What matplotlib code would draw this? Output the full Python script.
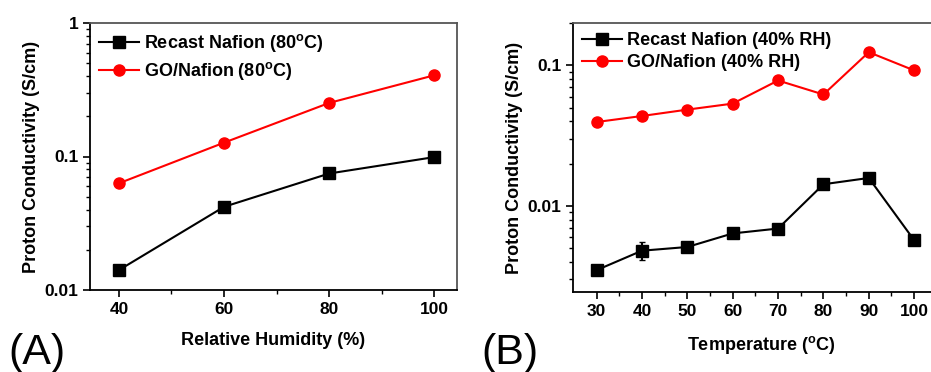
import matplotlib
matplotlib.use("Agg")
import matplotlib.pyplot as plt
from matplotlib.ticker import LogLocator, NullFormatter, FixedLocator

plt.rcParams['font.family'] = ['Liberation Sans', 'DejaVu Sans']
plt.rcParams['font.weight'] = 'bold'
plt.rcParams['mathtext.fontset'] = 'custom'
plt.rcParams['mathtext.rm'] = 'Liberation Sans:bold'
plt.rcParams['mathtext.bf'] = 'Liberation Sans:bold'

# Panel A data
rh = [40, 60, 80, 100]
recast_rh = [0.0141, 0.042, 0.0746, 0.099]
go_rh = [0.063, 0.127, 0.252, 0.406]

# Panel B data
temp = [30, 40, 50, 60, 70, 80, 90, 100]
recast_t = [0.00349, 0.0048, 0.0051, 0.00637, 0.0069, 0.01425, 0.0158, 0.0057]
recast_t_err = [0.0001, 0.0007, 0.0002, 0.0002, 0.0003, 0.0005, 0.0006, 0.0002]
go_t = [0.0395, 0.0436, 0.0484, 0.0534, 0.078, 0.062, 0.124, 0.092]
go_t_err = [0.001, 0.001, 0.001, 0.001, 0.003, 0.002, 0.006, 0.004]

fig = plt.figure(figsize=(9.31, 3.72), dpi=100)
W, H = 931, 372

def px_axes(l, t, r, b):
    return fig.add_axes([l / W, 1 - b / H, (r - l) / W, (b - t) / H])

axA = px_axes(90, 23, 457, 290)
axB = px_axes(573, 23, 950, 292)

for ax in (axA, axB):
    ax.set_yscale('log')
    ax.tick_params(axis='both', which='major', direction='out', length=5, width=1.2,
                   labelsize=12.5)
    ax.tick_params(axis='both', which='minor', direction='out', length=3, width=1)
    for s in ax.spines.values():
        s.set_linewidth(1.3)
    ax.spines['top'].set_color('#555555')
    ax.spines['right'].set_color('#555555')
    ax.yaxis.set_minor_locator(LogLocator(base=10, subs=range(2, 10)))
    ax.yaxis.set_minor_formatter(NullFormatter())
    ax.set_ylabel('Proton Conductivity (S/cm)', fontsize=13, fontweight='bold', labelpad=3)

# Panel A
axA.plot(rh, recast_rh, color='black', marker='s', markersize=8, lw=1.5,
         label=r'Recast Nafion (80$^{\mathrm{o}}$C)')
axA.plot(rh, go_rh, color='red', marker='o', markersize=8, lw=1.5,
         label=r'GO/Nafion (80$^{\mathrm{o}}$C)')
axA.set_xlim(34.5, 104.3)
axA.set_ylim(0.01, 1)
axA.xaxis.set_major_locator(FixedLocator(rh))
axA.xaxis.set_minor_locator(FixedLocator([50, 70, 90]))
axA.set_yticks([0.01, 0.1, 1])
axA.set_yticklabels(['0.01', '0.1', '1'])
axA.set_xlabel('Relative Humidity (%)', fontsize=13, fontweight='bold', labelpad=11)
axA.legend(loc='upper left', frameon=False, fontsize=13, handlelength=2.2,
           handletextpad=0.3, borderaxespad=0.1, labelspacing=0.35,
           bbox_to_anchor=(0.0, 1.0))

# Panel B
ebR = axB.errorbar(temp, recast_t, yerr=recast_t_err, color='black', marker='s', markersize=8,
                   lw=1.5, capsize=2, label='Recast Nafion (40% RH)')
ebG = axB.errorbar(temp, go_t, yerr=go_t_err, color='red', marker='o', markersize=8,
                   lw=1.5, capsize=2, label='GO/Nafion (40% RH)')
axB.set_xlim(24.8, 107.9)
axB.set_ylim(0.00244, 0.2)
axB.xaxis.set_major_locator(FixedLocator(temp))
axB.xaxis.set_minor_locator(FixedLocator([35, 45, 55, 65, 75, 85, 95, 105]))
axB.set_yticks([0.01, 0.1])
axB.set_yticklabels(['0.01', '0.1'])
axB.set_xlabel(r'Temperature ($^{\mathrm{o}}$C)', fontsize=13, fontweight='bold', labelpad=11)
axB.legend(handles=[ebR.lines[0], ebG.lines[0]],
           labels=['Recast Nafion (40% RH)', 'GO/Nafion (40% RH)'],
           loc='upper left', frameon=False, fontsize=13, handlelength=2.2,
           handletextpad=0.3, borderaxespad=0.1, labelspacing=0.3,
           bbox_to_anchor=(0.0, 1.0))

fig.text(8 / W, 1 - 364 / H, '(A)', fontsize=31, fontweight='normal', va='baseline')
fig.text(481 / W, 1 - 364 / H, '(B)', fontsize=31, fontweight='normal', va='baseline')

fig.savefig('out.png', dpi=100, facecolor='white')
